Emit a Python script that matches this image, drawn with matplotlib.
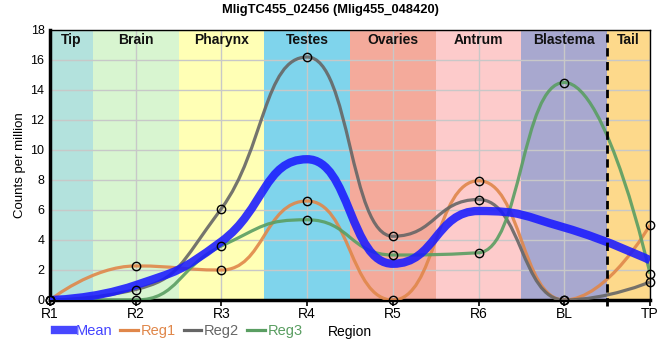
import numpy as np
import matplotlib
matplotlib.use("Agg")
import matplotlib.pyplot as plt
from matplotlib.lines import Line2D
from matplotlib.path import Path
from matplotlib.patches import PathPatch

plt.rcParams["font.family"] = ["Liberation Sans", "DejaVu Sans"]

regions = ["R1", "R2", "R3", "R4", "R5", "R6", "BL", "TP"]
reg1 = [0.0, 2.27, 2.0, 6.6, 0.0, 7.95, 0.0, 5.0]
reg2 = [0.0, 0.7, 6.1, 16.2, 4.25, 6.7, 0.0, 1.2]
reg3 = [0.0, 0.0, 3.6, 5.35, 3.0, 3.15, 14.5, 1.75]
mean = list(np.mean([reg1, reg2, reg3], axis=0))

band_names = ["Tip", "Brain", "Pharynx", "Testes", "Ovaries", "Antrum", "Blastema", "Tail"]
band_edges = [0, 0.5, 1.5, 2.5, 3.5, 4.5, 5.5, 6.5, 7]
band_colors = ["#b3e2dd", "#d8f5d0", "#ffffb5", "#7fd4ec", "#f4aa9b",
               "#fdcbcb", "#a8a8cf", "#fdd98b"]


def spline_path(y, a=0.5):
    # spline through the points, control points flattened at local extremes
    x = np.arange(len(y), dtype=float)
    left = [(x[i], y[i]) for i in range(len(y))]
    right = [(x[i], y[i]) for i in range(len(y))]
    for i in range(1, len(y) - 1):
        lx, rx = x[i] - a, x[i] + a
        ly = y[i] - a * (y[i] - y[i - 1])
        ry = y[i] + a * (y[i + 1] - y[i])
        corr = (ry - ly) * (rx - x[i]) / (rx - lx) + y[i] - ry
        ly += corr
        ry += corr
        if ly > y[i - 1] and ly > y[i]:
            ly = max(y[i - 1], y[i])
            ry = 2 * y[i] - ly
        elif ly < y[i - 1] and ly < y[i]:
            ly = min(y[i - 1], y[i])
            ry = 2 * y[i] - ly
        if ry > y[i + 1] and ry > y[i]:
            ry = max(y[i + 1], y[i])
            ly = 2 * y[i] - ry
        elif ry < y[i + 1] and ry < y[i]:
            ry = min(y[i + 1], y[i])
            ly = 2 * y[i] - ry
        left[i] = (lx, ly)
        right[i] = (rx, ry)
    verts = [(x[0], y[0])]
    codes = [Path.MOVETO]
    for i in range(1, len(y)):
        verts += [right[i - 1], left[i], (x[i], y[i])]
        codes += [Path.CURVE4] * 3
    return Path(verts, codes)


fig = plt.figure(figsize=(6.6, 3.6), dpi=100)
ax = fig.add_axes([50 / 660, 60 / 360, 600 / 660, 270 / 360])

for i, name in enumerate(band_names):
    ax.axvspan(band_edges[i], band_edges[i + 1], color=band_colors[i], lw=0, zorder=0)
    ax.text((band_edges[i] + band_edges[i + 1]) / 2, 17.8, name, ha="center", va="top",
            fontsize=10, fontweight="bold", color="#111111", zorder=5)

ax.grid(True, color="#c8c8c8", lw=1, zorder=1)
ax.set_axisbelow(True)

series = [(reg1, "#e0874a", "Reg1"), (reg2, "#666666", "Reg2"), (reg3, "#5a9e62", "Reg3")]
for vals, col, lab in series:
    ax.add_patch(PathPatch(spline_path(vals), fc="none", ec=col, lw=2.3, alpha=0.9,
                           zorder=3, capstyle="butt"))

ax.add_patch(PathPatch(spline_path(mean), fc="none", ec="#1a1aff", lw=6, alpha=0.88,
                       zorder=4, capstyle="butt"))

for vals, col, lab in series:
    ax.plot(range(len(vals)), vals, "o", ms=6, mfc="none", mec="black", mew=1, zorder=6,
            clip_on=False)

ax.plot([6.5, 6.5], [-0.4, 18], color="black", ls=(0, (3, 2)), lw=2, zorder=5,
        clip_on=False)

ax.set_xlim(0, 7)
ax.set_ylim(0, 18)
ax.set_xticks(range(len(regions)))
ax.set_xticklabels(regions, fontsize=10)
ax.set_yticks(range(0, 19, 2))
ax.tick_params(axis="y", labelsize=9, length=0, pad=4)
ax.tick_params(axis="x", length=4, width=1.2, pad=1)
for sp in ["left", "bottom"]:
    ax.spines[sp].set_linewidth(2.5)
for sp in ["top", "right"]:
    ax.spines[sp].set_linewidth(1)
ax.set_ylabel("Counts per million", fontsize=9.5, labelpad=3)
ax.set_xlabel("Region", fontsize=10, labelpad=3)

fig.suptitle("MligTC455_02456 (Mlig455_048420)", fontsize=9.3, fontweight="bold", y=0.99)

handles = [Line2D([], [], color="#3333ff", lw=6, alpha=0.9),
           Line2D([], [], color="#e0874a", lw=2.3),
           Line2D([], [], color="#666666", lw=2.3),
           Line2D([], [], color="#5a9e62", lw=2.3)]
leg = fig.legend(handles, ["Mean", "Reg1", "Reg2", "Reg3"], loc="center left",
                 bbox_to_anchor=(55 / 660, 1 - 331 / 360), ncol=4, frameon=False,
                 fontsize=10.5, handlelength=1.2, handletextpad=0.2, columnspacing=0.55,
                 borderpad=0, borderaxespad=0)
for txt, c in zip(leg.get_texts(), ["#4444ff", "#e0874a", "#666666", "#5a9e62"]):
    txt.set_color(c)

fig.savefig("out.png", dpi=100)
